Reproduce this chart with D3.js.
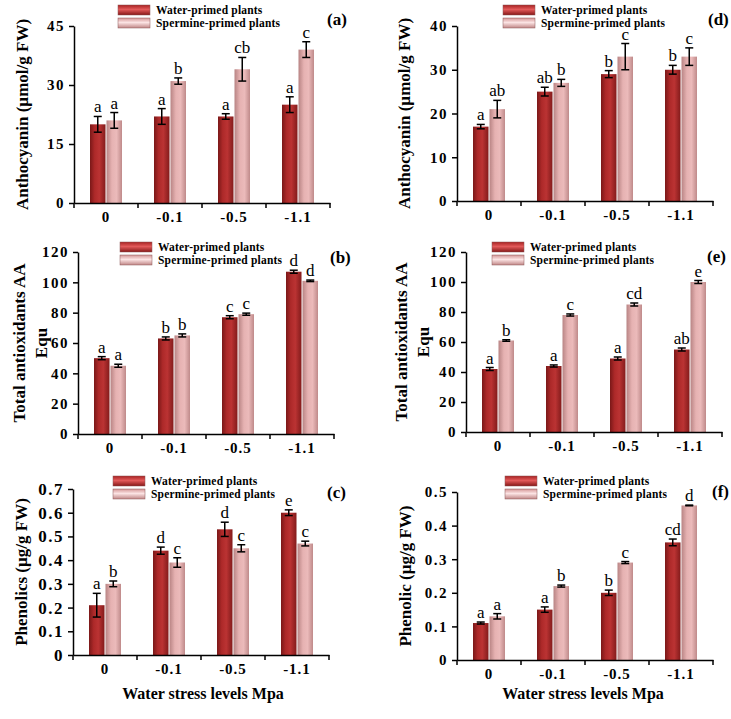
<!DOCTYPE html>
<html>
<head>
<meta charset="utf-8">
<script src="https://cdn.jsdelivr.net/npm/d3@7"></script>
<style>
  body { margin: 0; background: #fff; }
  svg { display: block; }
  text { font-family: "Liberation Serif", "Times New Roman", serif; fill: #000; }
  .tick text { font-size: 15px; font-weight: bold; letter-spacing: 1px; }
  .domain, .tick line { stroke: #000; stroke-width: 1.5; }
</style>
</head>
<body>
<div id="chart"></div>
<script>
const width = 731;
const height = 719;

const stressLevels = ["0", "-0.1", "-0.5", "-1.1"];
const seriesNames = ["Water-primed plants", "Spermine-primed plants"];

// (a) anthocyanin
const anthoAWater = [20, 22, 22, 25];
const anthoAWaterErr = [2, 2, 0.7, 2];
const anthoASperm = [21, 31, 34, 39];
const anthoASpermErr = [2, 0.8, 3, 2];
const anthoAWaterLetters = ["a", "a", "a", "a"];
const anthoASpermLetters = ["a", "b", "cb", "c"];

// (d) anthocyanin
const anthoDWater = [17, 25, 29, 30];
const anthoDWaterErr = [0.5, 1, 0.8, 1];
const anthoDSperm = [21, 27, 33, 33];
const anthoDSpermErr = [2, 0.8, 3, 2];
const anthoDWaterLetters = ["a", "ab", "b", "b"];
const anthoDSpermLetters = ["ab", "b", "c", "c"];

// (b) total antioxidants
const antiBWater = [50, 63, 77, 107];
const antiBWaterErr = [1, 1, 1, 1];
const antiBSperm = [45, 65, 79, 101];
const antiBSpermErr = [1, 1, 0.7, 0.5];
const antiBWaterLetters = ["a", "b", "c", "d"];
const antiBSpermLetters = ["a", "b", "c", "d"];

// (e) total antioxidants
const antiEWater = [42, 44, 49, 55];
const antiEWaterErr = [1, 0.7, 1, 1];
const antiESperm = [61, 78, 85, 100];
const antiESpermErr = [0.5, 0.7, 1, 1];
const antiEWaterLetters = ["a", "a", "a", "ab"];
const antiESpermLetters = ["b", "c", "cd", "e"];

// (c) phenolics
const phenCWater = [0.21, 0.44, 0.53, 0.60];
const phenCWaterErr = [0.05, 0.015, 0.03, 0.012];
const phenCSperm = [0.30, 0.39, 0.45, 0.47];
const phenCSpermErr = [0.012, 0.02, 0.015, 0.01];
const phenCWaterLetters = ["a", "d", "d", "e"];
const phenCSpermLetters = ["b", "c", "c", "c"];

// (f) phenolic
const phenFWater = [0.11, 0.15, 0.20, 0.35];
const phenFWaterErr = [0.003, 0.008, 0.008, 0.01];
const phenFSperm = [0.13, 0.22, 0.29, 0.46];
const phenFSpermErr = [0.008, 0.003, 0.003, 0.001];
const phenFWaterLetters = ["a", "a", "b", "cd"];
const phenFSpermLetters = ["a", "b", "c", "d"];

const yTicksA = [0, 15, 30, 45];
const yTicksD = [0, 10, 20, 30, 40];
const yTicksAnti = [0, 20, 40, 60, 80, 100, 120];
const yTicksC = [0, 0.1, 0.2, 0.3, 0.4, 0.5, 0.6, 0.7];
const yTicksF = [0, 0.1, 0.2, 0.3, 0.4, 0.5];

const xTitle = "Water stress levels Mpa";

function makeRows(water, waterErr, waterLet, sperm, spermErr, spermLet) {
  return stressLevels.map((lvl, i) => ({
    level: lvl,
    bars: [
      { s: 0, v: water[i], e: waterErr[i], l: waterLet[i] },
      { s: 1, v: sperm[i], e: spermErr[i], l: spermLet[i] }
    ]
  }));
}

const decFmt = d => d === 0 ? "0" : d3.format(".1f")(d);

const panels = [
  { tag: "(a)", x0: 74, top: 26, bottom: 203, ticks: yTicksA, ylab: ["Anthocyanin (µmol/g FW)"], ylx: 22,
    legX: 118, legY: 5, tagX: 327, tagY: 25, fmt: d3.format("d"), tickFs: 15, tickLs: 1.5,
    rows: makeRows(anthoAWater, anthoAWaterErr, anthoAWaterLetters, anthoASperm, anthoASpermErr, anthoASpermLetters) },
  { tag: "(d)", x0: 457, top: 26, bottom: 201, ticks: yTicksD, ylab: ["Anthocyanin (µmol/g FW)"], ylx: 404,
    legX: 503, legY: 5, tagX: 708, tagY: 25, fmt: d3.format("d"), tickFs: 15, tickLs: 1.5,
    rows: makeRows(anthoDWater, anthoDWaterErr, anthoDWaterLetters, anthoDSperm, anthoDSpermErr, anthoDSpermLetters) },
  { tag: "(b)", x0: 78, top: 252, bottom: 434, ticks: yTicksAnti, ylab: ["Total antioxidants AA", "Equ"], ylx: 19,
    legX: 120, legY: 242, tagX: 330, tagY: 263, fmt: d3.format("d"), tickFs: 15, tickLs: 1.5,
    rows: makeRows(antiBWater, antiBWaterErr, antiBWaterLetters, antiBSperm, antiBSpermErr, antiBSpermLetters) },
  { tag: "(e)", x0: 466, top: 252, bottom: 432, ticks: yTicksAnti, ylab: ["Total antioxidants AA", "Equ"], ylx: 401,
    legX: 492, legY: 242, tagX: 707, tagY: 262, fmt: d3.format("d"), tickFs: 15, tickLs: 1.5,
    rows: makeRows(antiEWater, antiEWaterErr, antiEWaterLetters, antiESperm, antiESpermErr, antiESpermLetters) },
  { tag: "(c)", x0: 73, top: 489, bottom: 655, ticks: yTicksC, ylab: ["Phenolics (µg/g FW)"], ylx: 21,
    legX: 113, legY: 476, tagX: 327, tagY: 498, fmt: decFmt, xTitleX: 203, tickFs: 17, tickLs: 1.5,
    rows: makeRows(phenCWater, phenCWaterErr, phenCWaterLetters, phenCSperm, phenCSpermErr, phenCSpermLetters) },
  { tag: "(f)", x0: 457, top: 492, bottom: 660, ticks: yTicksF, ylab: ["Phenolic (µg/g FW)"], ylx: 405,
    legX: 505, legY: 476, tagX: 712, tagY: 497, fmt: decFmt, xTitleX: 583, tickFs: 15, tickLs: 1.5,
    rows: makeRows(phenFWater, phenFWaterErr, phenFWaterLetters, phenFSperm, phenFSpermErr, phenFSpermLetters) }
];

const svg = d3.select("#chart").append("svg")
  .attr("width", width)
  .attr("height", height);

// gradients for the shaded bars
const defs = svg.append("defs");
function addGradient(id, stops, vertical) {
  const g = defs.append("linearGradient").attr("id", id)
    .attr("x1", 0).attr("y1", 0)
    .attr("x2", vertical ? 0 : 1).attr("y2", vertical ? 1 : 0);
  stops.forEach(s => g.append("stop").attr("offset", s[0]).attr("stop-color", s[1]));
}
addGradient("barWater", [[0, "#7a1818"], [0.3, "#ad2929"], [0.6, "#bb3333"], [1, "#831b1b"]], false);
addGradient("barSperm", [[0, "#b88484"], [0.35, "#e6b2b2"], [0.65, "#ebbaba"], [1, "#bf8a8a"]], false);
addGradient("legWater", [[0, "#a82222"], [0.45, "#e25a5a"], [1, "#861818"]], true);
addGradient("legSperm", [[0, "#d49696"], [0.45, "#fbe3e3"], [1, "#c08686"]], true);

const barFill = ["url(#barWater)", "url(#barSperm)"];
const legFill = ["url(#legWater)", "url(#legSperm)"];

panels.forEach(p => {
  const g = svg.append("g");
  const axisW = 256;

  const x = d3.scaleBand().domain(stressLevels).range([p.x0, p.x0 + axisW]);
  const y = d3.scaleLinear().domain([0, d3.max(p.ticks)]).range([p.bottom, p.top]);

  // bars
  const groups = g.selectAll(".grp").data(p.rows).enter().append("g").attr("class", "grp");
  const inner = d3.scaleBand().domain([0, 1]).paddingInner(0.06);
  groups.each(function(row) {
    const cx = x(row.level) + x.bandwidth() / 2;
    inner.range([cx - 16, cx + 16]);
    const sel = d3.select(this);
    const bw = inner.bandwidth();

    sel.selectAll("rect").data(row.bars).enter().append("rect")
      .attr("x", d => inner(d.s))
      .attr("y", d => y(d.v))
      .attr("width", bw)
      .attr("height", d => y(0) - y(d.v))
      .attr("fill", d => barFill[d.s]);

    const err = sel.selectAll(".err").data(row.bars).enter().append("g")
      .attr("class", "err")
      .attr("stroke", "#000").attr("stroke-width", 1.5);
    err.append("line")
      .attr("x1", d => inner(d.s) + bw / 2).attr("x2", d => inner(d.s) + bw / 2)
      .attr("y1", d => y(d.v + d.e)).attr("y2", d => y(d.v - d.e));
    err.append("line")
      .attr("x1", d => inner(d.s) + bw / 2 - 4).attr("x2", d => inner(d.s) + bw / 2 + 4)
      .attr("y1", d => y(d.v + d.e)).attr("y2", d => y(d.v + d.e));
    err.append("line")
      .attr("x1", d => inner(d.s) + bw / 2 - 4).attr("x2", d => inner(d.s) + bw / 2 + 4)
      .attr("y1", d => y(d.v - d.e)).attr("y2", d => y(d.v - d.e));

    sel.selectAll(".letter").data(row.bars).enter().append("text")
      .attr("class", "letter")
      .attr("x", d => inner(d.s) + bw / 2)
      .attr("y", d => y(d.v + d.e) - 4)
      .attr("text-anchor", "middle")
      .style("font-size", "17px")
      .text(d => d.l);
  });

  // axes
  const yAxis = g.append("g")
    .attr("transform", `translate(${p.x0},0)`)
    .call(d3.axisLeft(y).tickValues(p.ticks).tickFormat(p.fmt).tickSize(5).tickPadding(4).tickSizeOuter(0));
  yAxis.selectAll(".tick text")
    .style("font-size", p.tickFs + "px")
    .style("letter-spacing", p.tickLs + "px");

  const xAxis = g.append("g").attr("transform", `translate(0,${p.bottom})`);
  xAxis.call(d3.axisBottom(x).tickSize(0).tickPadding(8));
  xAxis.selectAll(".tick text").attr("dy", "0.71em");
  // boundary ticks between the categories
  xAxis.selectAll(".bound").data(d3.range(stressLevels.length + 1)).enter().append("line")
    .attr("class", "bound")
    .attr("x1", i => p.x0 + i * x.step()).attr("x2", i => p.x0 + i * x.step())
    .attr("y1", 0).attr("y2", 5)
    .attr("stroke", "#000").attr("stroke-width", 1.5);

  // y title
  const cy = (p.top + p.bottom) / 2;
  p.ylab.forEach((line, i) => {
    g.append("text")
      .attr("transform", `translate(${p.ylx + i * 22},${cy}) rotate(-90)`)
      .attr("text-anchor", "middle")
      .attr("dominant-baseline", "central")
      .style("font-size", "17px")
      .style("font-weight", "bold")
      .text(line);
  });

  // legend
  const leg = g.append("g").attr("transform", `translate(${p.legX},${p.legY})`);
  seriesNames.forEach((name, i) => {
    leg.append("rect")
      .attr("x", 0).attr("y", i * 13)
      .attr("width", 32).attr("height", 10)
      .attr("fill", legFill[i])
      .attr("stroke", "#8c5a5a").attr("stroke-width", 0.5);
    leg.append("text")
      .attr("x", 38).attr("y", i * 13 + 9)
      .style("font-size", "11.5px")
      .style("font-weight", "bold")
      .style("letter-spacing", "0.2px")
      .text(name);
  });

  // panel tag
  g.append("text")
    .attr("x", p.tagX).attr("y", p.tagY)
    .style("font-size", "17px")
    .style("font-weight", "bold")
    .text(p.tag);

  if (p.xTitleX) {
    g.append("text")
      .attr("x", p.xTitleX).attr("y", 699)
      .attr("text-anchor", "middle")
      .style("font-size", "16px")
      .style("font-weight", "bold")
      .text(xTitle);
  }
});
</script>
</body>
</html>
